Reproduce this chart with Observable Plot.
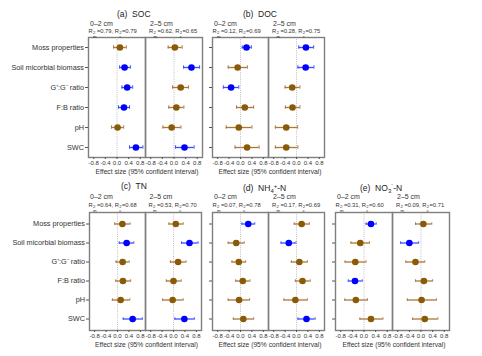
<!DOCTYPE html>
<html>
<head>
<meta charset="utf-8">
<script src="https://cdn.jsdelivr.net/npm/d3@7"></script>
<script src="https://cdn.jsdelivr.net/npm/@observablehq/plot@0.6"></script>
<style>
  html, body { margin: 0; padding: 0; background: #fff; }
  #root { position: relative; width: 482px; height: 356px; overflow: hidden; background: #fff;
          font-family: "Liberation Sans", Arial, sans-serif; color: #333; }
  .abs { position: absolute; white-space: pre; }
  .ttl { font-size: 8.5px; line-height: 9px; color: #222; }
  .dep { font-size: 7px; line-height: 7px; color: #333; }
  .r2 { font-size: 5.8px; line-height: 6px; color: #333; }
  .ss { display: inline-flex; flex-direction: column; font-size: 4.3px; line-height: 3.6px; vertical-align: -1.4px; margin: 0 0.3px; }
  .xl { font-size: 6.7px; line-height: 7px; color: #333; transform: translateX(-50%); }
  .sub { font-size: 6px; vertical-align: -2px; }
  .sup { font-size: 6px; vertical-align: 3px; }
  svg { position: absolute; overflow: visible; }
</style>
</head>
<body>
<div id="root"></div>
<script>
// ---------- data ----------
const rows = ["Moss properties", "Soil micorbial biomass", "G⁺:G⁻ ratio", "F:B ratio", "pH", "SWC"];
const depths = ["0–2 cm", "2–5 cm"];
const xTicks = [-0.8, -0.4, 0, 0.4, 0.8];

// (a) SOC
const socEst = [[0.10, 0.26, 0.35, 0.24, 0.02, 0.65], [0.03, 0.60, 0.23, 0.08, -0.08, 0.36]];
const socLo  = [[-0.12, 0.09, 0.17, 0.05, -0.19, 0.43], [-0.20, 0.33, -0.05, -0.18, -0.38, 0.05]];
const socHi  = [[0.32, 0.46, 0.54, 0.43, 0.23, 0.89], [0.28, 0.88, 0.50, 0.34, 0.24, 0.69]];
const socSig = [[0, 1, 1, 1, 0, 1], [0, 1, 0, 0, 0, 1]];
const socR2  = [["0.79", "0.79"], ["0.62", "0.65"]];

// (b) DOC
const docEst = [[0.21, -0.10, -0.33, 0.15, -0.06, 0.23], [0.33, 0.32, -0.15, -0.14, -0.36, -0.36]];
const docLo  = [[0.06, -0.43, -0.60, -0.14, -0.50, -0.19], [0.08, 0.05, -0.40, -0.39, -0.74, -0.74]];
const docHi  = [[0.38, 0.24, -0.06, 0.46, 0.40, 0.65], [0.60, 0.61, 0.12, 0.12, 0.04, 0.05]];
const docSig = [[1, 0, 1, 0, 0, 0], [1, 1, 0, 0, 0, 0]];
const docR2  = [["0.12", "0.69"], ["0.28", "0.75"]];

// (c) TN
const tnEst = [[0.17, 0.32, 0.18, 0.19, 0.11, 0.53], [0.08, 0.56, 0.16, 0.00, -0.03, 0.38]];
const tnLo  = [[-0.10, 0.06, -0.05, -0.06, -0.18, 0.20], [-0.16, 0.28, -0.11, -0.25, -0.38, 0.05]];
const tnHi  = [[0.44, 0.57, 0.41, 0.46, 0.43, 0.87], [0.34, 0.86, 0.44, 0.27, 0.34, 0.73]];
const tnSig = [[0, 1, 0, 0, 0, 1], [0, 1, 0, 0, 0, 1]];
const tnR2  = [["0.64", "0.68"], ["0.53", "0.70"]];

// (d) NH4+-N
const nh4Est = [[0.27, -0.15, -0.06, 0.08, -0.05, 0.10], [0.18, -0.27, 0.10, 0.21, -0.04, 0.35]];
const nh4Lo  = [[0.05, -0.43, -0.30, -0.17, -0.43, -0.25], [-0.08, -0.54, -0.18, -0.04, -0.44, 0.05]];
const nh4Hi  = [[0.50, 0.13, 0.18, 0.33, 0.32, 0.46], [0.45, -0.02, 0.38, 0.48, 0.38, 0.65]];
const nh4Sig = [[1, 0, 0, 0, 0, 0], [0, 1, 0, 0, 0, 1]];
const nh4R2  = [["0.07", "0.78"], ["0.17", "0.69"]];

// (e) NO3--N
const no3Est = [[0.24, -0.13, -0.30, -0.31, -0.28, 0.24], [0.08, -0.40, -0.19, 0.10, 0.02, 0.13]];
const no3Lo  = [[0.07, -0.45, -0.65, -0.54, -0.66, -0.14], [-0.19, -0.70, -0.52, -0.19, -0.47, -0.29]];
const no3Hi  = [[0.42, 0.19, 0.07, -0.06, 0.12, 0.65], [0.37, -0.08, 0.13, 0.40, 0.53, 0.58]];
const no3Sig = [[1, 0, 0, 1, 0, 0], [0, 1, 0, 0, 0, 0]];
const no3R2  = [["0.31", "0.60"], ["0.09", "0.71"]];

// ---------- drawing ----------
const root = document.getElementById("root");
const dotBrown = "#8b5a06", barBrown = "#a9783a";
const dotBlue = "#0000ff", barBlue = "#3a4dff";

function div(cls, html, left, top) {
  const d = document.createElement("div");
  d.className = "abs " + cls;
  d.innerHTML = html;
  d.style.left = left + "px";
  d.style.top = top + "px";
  root.appendChild(d);
  return d;
}

function panel(p) {
  const data = [];
  depths.forEach((dep, k) => rows.forEach((r, i) => data.push({
    depth: dep, row: r, est: p.est[k][i], lo: p.lo[k][i], hi: p.hi[k][i], sig: p.sig[k][i]
  })));
  const mL = p.labels ? p.frameLeft : 6, mT = 2, mB = 13, mR = 4;
  const frameH = p.frameBottom - p.frameTop;
  const width = mL + p.frameW + mR, height = mT + frameH + mB;
  const barCol = d => d.sig ? barBlue : barBrown;
  const chart = Plot.plot({
    width, height, marginLeft: mL, marginRight: mR, marginTop: mT, marginBottom: mB,
    style: { fontFamily: "Liberation Sans, Arial, sans-serif", fontSize: "6px", color: "#333", background: "transparent" },
    fx: { domain: depths, padding: 0, axis: null },
    x: { domain: [-0.98, 0.98] },
    y: { type: "band", domain: rows, padding: 0 },
    color: { type: "identity" },
    marks: [
      Plot.ruleX([0], { stroke: "#b0b0b0", strokeWidth: 0.8, strokeDasharray: "1,1.2" }),
      Plot.ruleY(data, { fx: "depth", y: "row", x1: "lo", x2: "hi", stroke: barCol, strokeWidth: 1.3 }),
      Plot.tickX(data, { fx: "depth", y: "row", x: "lo", stroke: barCol, strokeWidth: 1, insetTop: 8.3, insetBottom: 8.3 }),
      Plot.tickX(data, { fx: "depth", y: "row", x: "hi", stroke: barCol, strokeWidth: 1, insetTop: 8.3, insetBottom: 8.3 }),
      Plot.dot(data, { fx: "depth", y: "row", x: "est", r: 3.3, fill: d => d.sig ? dotBlue : dotBrown, stroke: "none" }),
      Plot.frame({ stroke: "#7f7f7f", strokeWidth: 1.4 }),
      Plot.axisX({ ticks: xTicks, tickFormat: d => d.toFixed(1), tickSize: 2, tickPadding: 1, label: null, stroke: "#555", fontSize: 6 }),
      Plot.axisY({ tickSize: 3, tickPadding: 1.5, label: null, stroke: "#555", fontSize: 7.3,
                   tickFormat: p.labels ? (d => d) : (() => "") })
    ]
  });
  chart.style.left = (p.frameLeft - mL) + "px";
  chart.style.top = (p.frameTop - mT) + "px";
  root.appendChild(chart);

  // headers
  div("ttl", p.title, p.titleX, p.titleY - 4.5);
  const half = p.frameW / 2;
  [0, 1].forEach(k => {
    const sx = p.frameLeft + k * half;
    div("dep", depths[k], sx + (k ? 5 : 2), p.depY - 3.5);
    const [m, c] = p.r2[k];
    div("r2", `R<span class="ss"><span>2</span><span>m</span></span>=${m}, R<span class="ss"><span>2</span><span>c</span></span>=${c}`,
        sx + (k ? 4 : 0.5), p.r2Y - 3);
  });
  div("xl", "Effect size (95% confident interval)", p.frameLeft + half + 2, p.frameBottom + 10.5);
}

panel({ est: socEst, lo: socLo, hi: socHi, sig: socSig, r2: socR2, labels: true,
        frameLeft: 88, frameW: 114, frameTop: 37, frameBottom: 157,
        title: "(a)  SOC", titleX: 117, titleY: 14, depY: 23, r2Y: 31 });
panel({ est: docEst, lo: docLo, hi: docHi, sig: docSig, r2: docR2, labels: false,
        frameLeft: 212, frameW: 112, frameTop: 37, frameBottom: 157,
        title: "(b)  DOC", titleX: 243, titleY: 14, depY: 23, r2Y: 31 });
panel({ est: tnEst, lo: tnLo, hi: tnHi, sig: tnSig, r2: tnR2, labels: true,
        frameLeft: 88, frameW: 113, frameTop: 212, frameBottom: 330,
        title: "(c)  TN", titleX: 121, titleY: 186, depY: 196, r2Y: 205 });
panel({ est: nh4Est, lo: nh4Lo, hi: nh4Hi, sig: nh4Sig, r2: nh4R2, labels: false,
        frameLeft: 212, frameW: 112, frameTop: 212, frameBottom: 330,
        title: '(d)  NH<span class="sub">4</span><span class="sup">+</span>-N', titleX: 243, titleY: 186, depY: 196, r2Y: 205 });
panel({ est: no3Est, lo: no3Lo, hi: no3Hi, sig: no3Sig, r2: no3R2, labels: false,
        frameLeft: 335, frameW: 114, frameTop: 212, frameBottom: 330,
        title: '(e)  NO<span class="sub">3</span><span class="sup">⁻</span>-N', titleX: 360, titleY: 186, depY: 196, r2Y: 205 });
</script>
</body>
</html>
